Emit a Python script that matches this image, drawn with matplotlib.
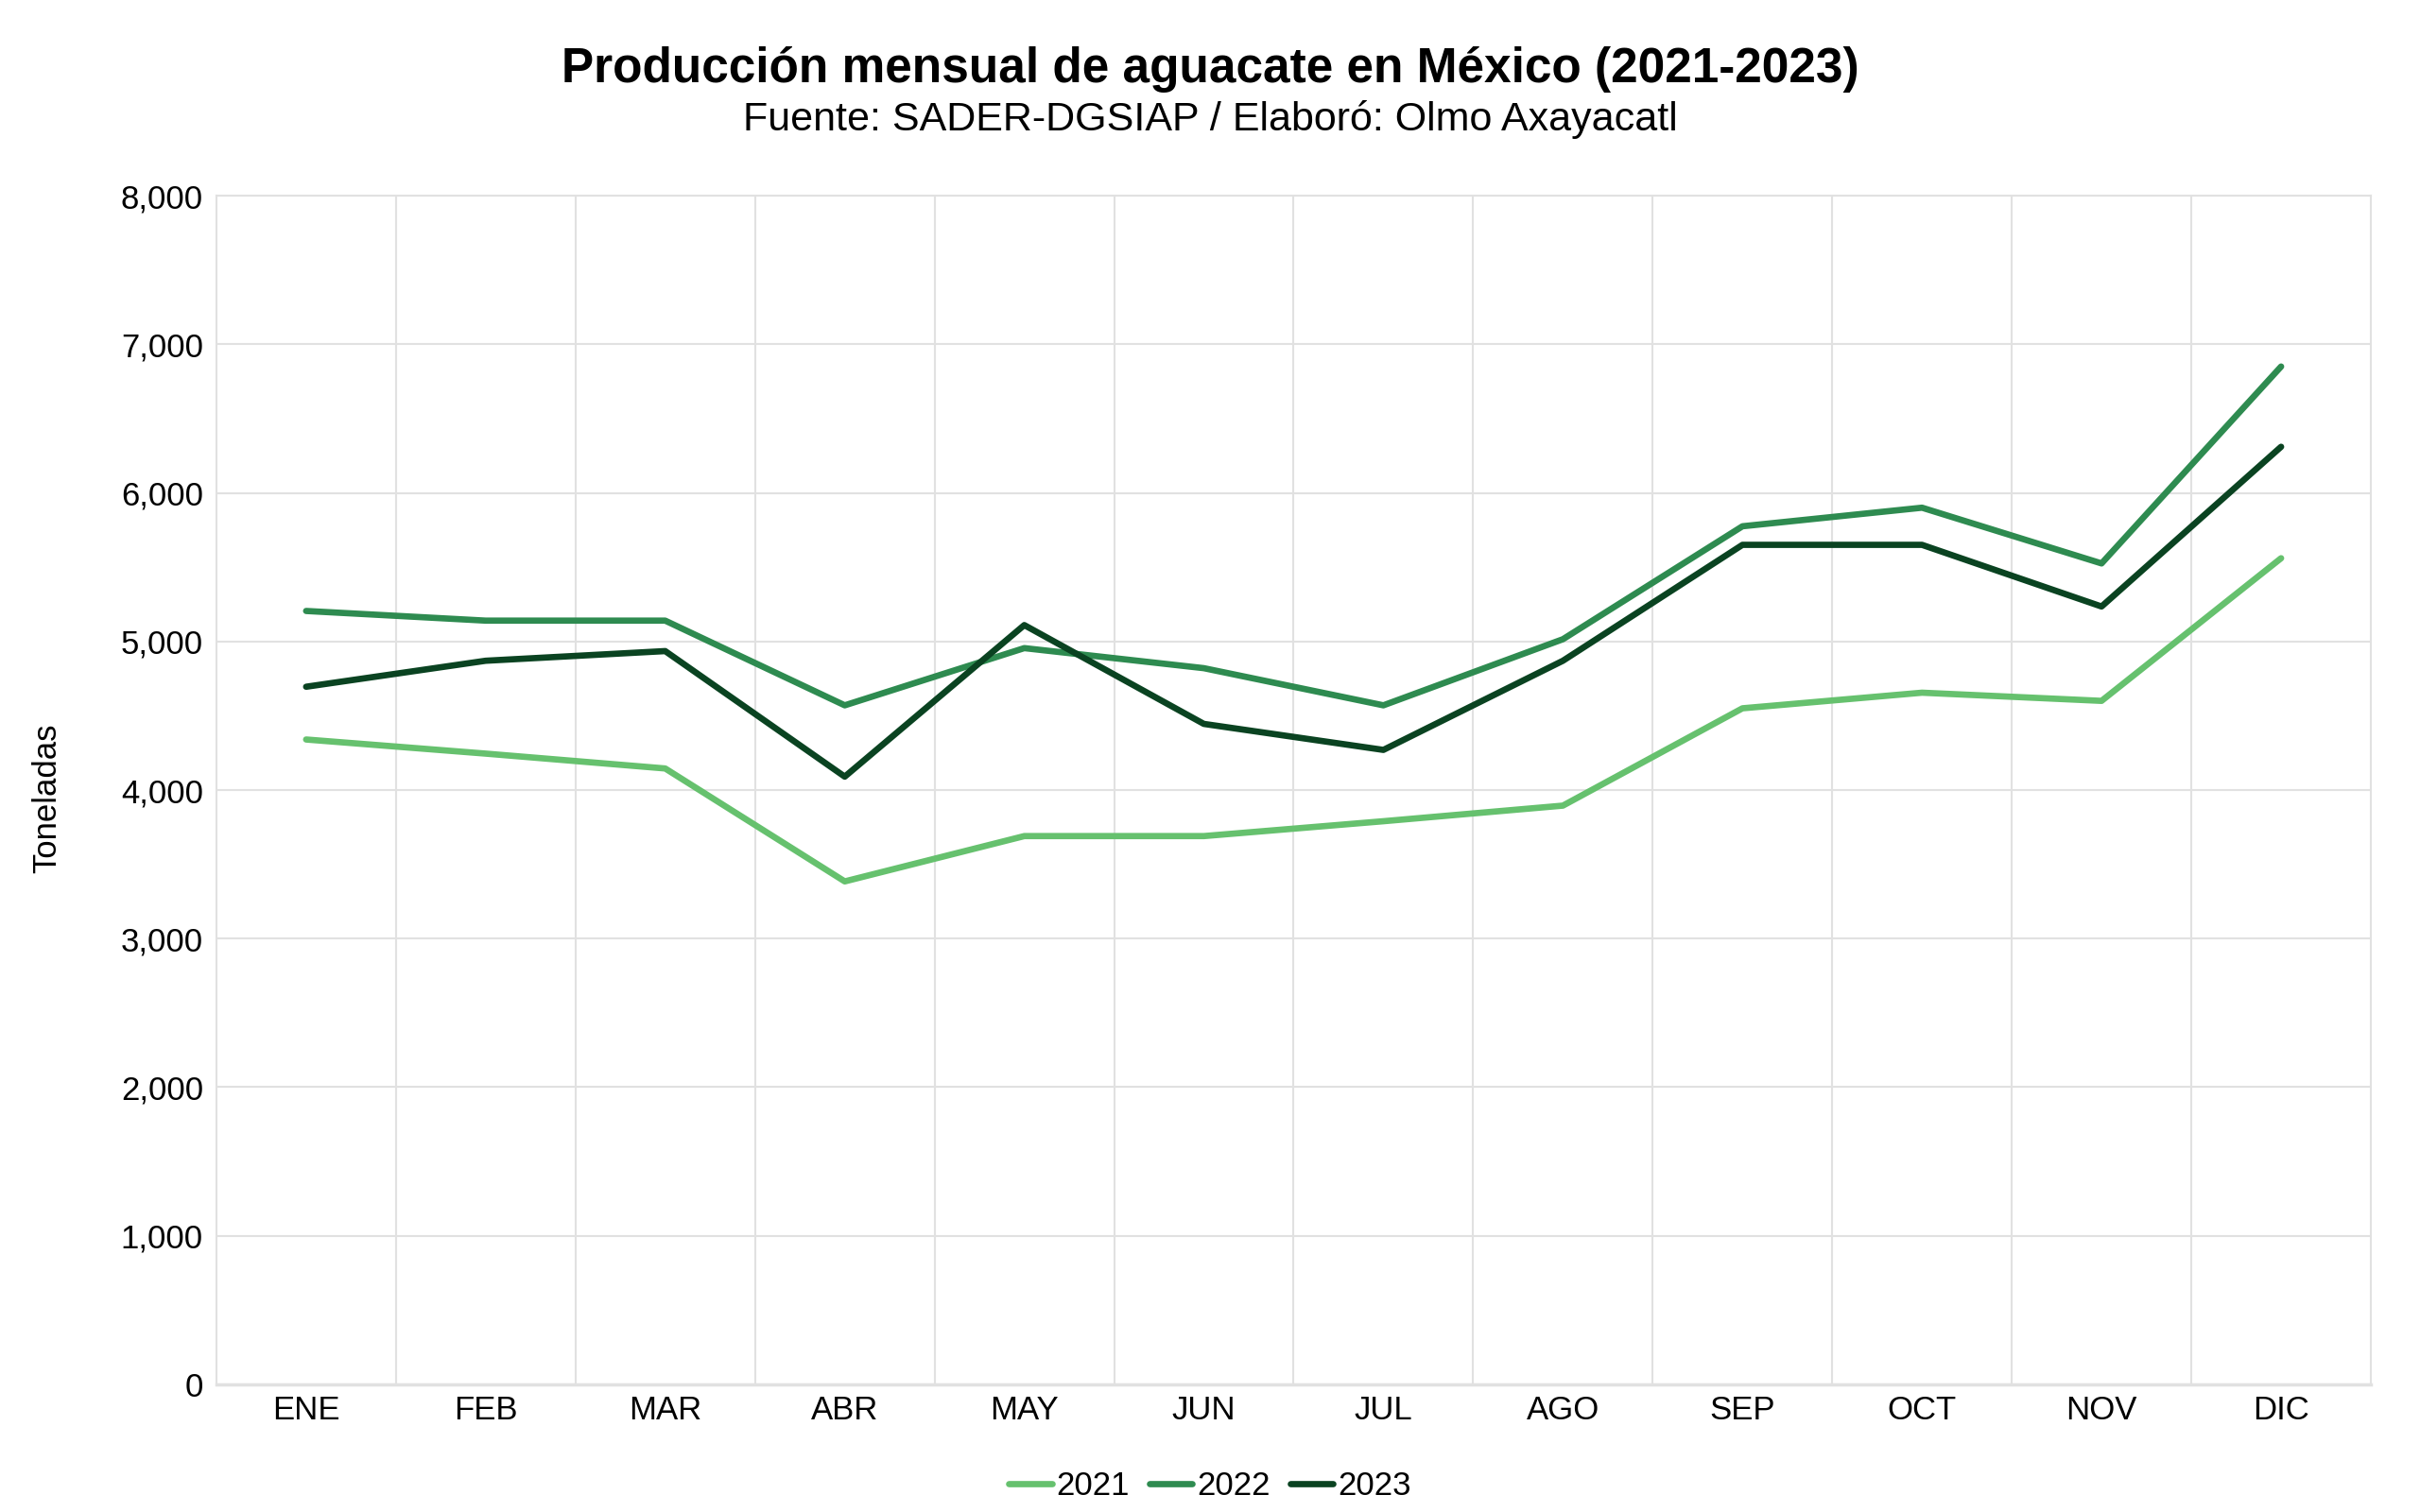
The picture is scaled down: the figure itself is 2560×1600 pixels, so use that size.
import matplotlib
matplotlib.use("Agg")
import matplotlib.pyplot as plt
from matplotlib.ticker import FuncFormatter

plt.rcParams["font.family"] = ["Liberation Sans", "DejaVu Sans"]

meses = ["ENE", "FEB", "MAR", "ABR", "MAY", "JUN", "JUL", "AGO", "SEP", "OCT", "NOV", "DIC"]
y2021 = [4340, 4245, 4145, 3385, 3690, 3690, 3790, 3895, 4550, 4655, 4600, 5560]
y2022 = [5205, 5140, 5140, 4570, 4955, 4820, 4570, 5015, 5775, 5900, 5525, 6850]
y2023 = [4695, 4870, 4935, 4090, 5110, 4445, 4270, 4870, 5650, 5650, 5235, 6310]

series = [("2021", y2021, "#66c16e"), ("2022", y2022, "#2e8b50"), ("2023", y2023, "#0a4321")]

fig = plt.figure(figsize=(25.6, 16), dpi=100)
ax = fig.add_axes([0.0894, 0.0844, 0.8903, 0.7862])

x = range(len(meses))
for name, vals, col in series:
    ax.plot(x, vals, color=col, linewidth=4.8, label=name, solid_capstyle="round", solid_joinstyle="round")

ax.set_xlim(-0.5, len(meses) - 0.5)
ax.set_ylim(0, 8000)
ax.set_yticks(range(0, 8001, 1000))
ax.yaxis.set_major_formatter(FuncFormatter(lambda v, p: f"{int(v):,}"))
ax.set_xticks(list(x))
ax.set_xticklabels(meses)
ax.set_xticks([i + 0.5 for i in range(len(meses) - 1)], minor=True)

ax.grid(axis="y", which="major", color="#e1e1e1", linewidth=1.5)
ax.grid(axis="x", which="minor", color="#e1e1e1", linewidth=1.5)
ax.grid(axis="x", which="major", visible=False)
ax.set_axisbelow(True)
for s in ax.spines.values():
    s.set_color("#e1e1e1")
    s.set_linewidth(1.5)
ax.spines["bottom"].set_linewidth(2.5)

ax.tick_params(axis="both", which="both", length=0, labelsize=25, colors="black")
ax.tick_params(axis="x", pad=8)
ax.tick_params(axis="y", pad=10)

fig.text(0.0195, 0.472, "Toneladas", rotation=90, fontsize=25, ha="center", va="center")

fig.text(0.5, 0.954, "Producción mensual de aguacate en México (2021-2023)",
         fontsize=37, fontweight="bold", ha="center", va="center")
fig.text(0.5, 0.921, "Fuente: SADER-DGSIAP / Elaboró: Olmo Axayacatl",
         fontsize=31, ha="center", va="center")

fig.legend(loc="center", bbox_to_anchor=(0.5, 0.017), ncol=3, frameon=False,
           fontsize=25, handlelength=1.3, handletextpad=0.15, columnspacing=0.6)

fig.savefig("out.png", dpi=100, facecolor="white")
